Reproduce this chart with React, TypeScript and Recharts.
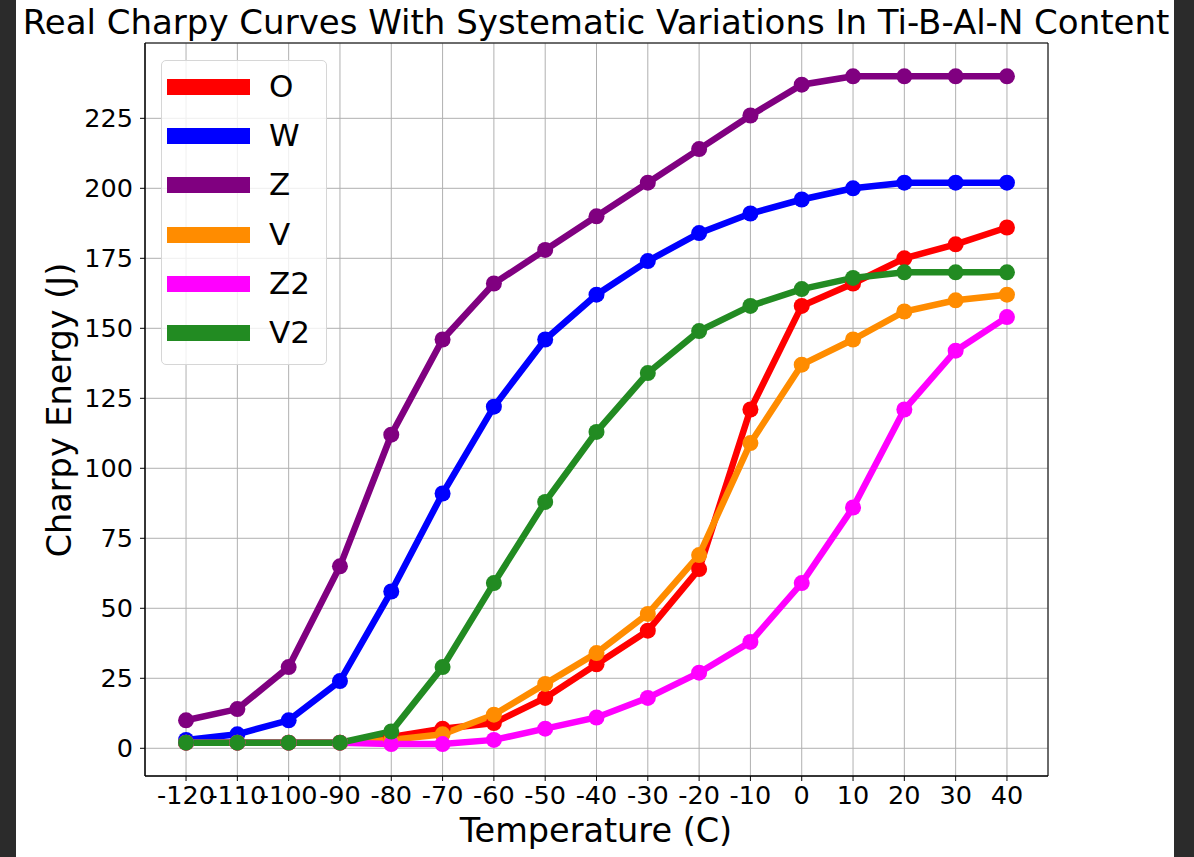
import React from 'react';
import { LineChart, Line, XAxis, YAxis, CartesianGrid, ReferenceArea } from 'recharts';

const temps = [-120, -110, -100, -90, -80, -70, -60, -50, -40, -30, -20, -10, 0, 10, 20, 30, 40];
const seriesO = [2, 2, 2, 2, 4, 7, 9, 18, 30, 42, 64, 121, 158, 166, 175, 180, 186];
const seriesW = [3, 5, 10, 24, 56, 91, 122, 146, 162, 174, 184, 191, 196, 200, 202, 202, 202];
const seriesZ = [10, 14, 29, 65, 112, 146, 166, 178, 190, 202, 214, 226, 237, 240, 240, 240, 240];
const seriesV = [2, 2, 2, 2, 3, 5, 12, 23, 34, 48, 69, 109, 137, 146, 156, 160, 162];
const seriesZ2 = [2, 2, 2, 2, 1.5, 1.5, 3, 7, 11, 18, 27, 38, 59, 86, 121, 142, 154];
const seriesV2 = [2, 2, 2, 2, 6, 29, 59, 88, 113, 134, 149, 158, 164, 168, 170, 170, 170];

const xTicks = [-120, -110, -100, -90, -80, -70, -60, -50, -40, -30, -20, -10, 0, 10, 20, 30, 40];
const yTicks = [0, 25, 50, 75, 100, 125, 150, 175, 200, 225];

const series = [
  { key: 'O', values: seriesO, color: '#ff0000' },
  { key: 'W', values: seriesW, color: '#0000ff' },
  { key: 'Z', values: seriesZ, color: '#800080' },
  { key: 'V', values: seriesV, color: '#ff8c00' },
  { key: 'Z2', values: seriesZ2, color: '#ff00ff' },
  { key: 'V2', values: seriesV2, color: '#228b22' },
];

const data = temps.map((t, i) => {
  const row: Record<string, number> = { t };
  series.forEach((s) => { row[s.key] = s.values[i]; });
  return row;
});

const font = '"DejaVu Sans", sans-serif';

function LegendBox() {
  return (
    <div style={{
      position: 'absolute', left: 161, top: 60, width: 164, height: 303,
      border: '1px solid #d6d6d6', borderRadius: 5, background: 'rgba(255,255,255,0.8)',
      fontFamily: font,
    }}>
      {series.map((s, i) => (
        <div key={s.key} style={{ position: 'absolute', left: 0, top: 1 + i * 49.2, height: 50, width: 164 }}>
          <div style={{ position: 'absolute', left: 5, top: 17, width: 83, height: 16, background: s.color }} />
          <div style={{ position: 'absolute', left: 107, top: 6, fontSize: 31, lineHeight: '37px', color: '#000' }}>{s.key}</div>
        </div>
      ))}
    </div>
  );
}

export default function App() {
  return (
    <div style={{ position: 'absolute', left: 0, top: 0, width: 1194, height: 857, background: '#2b2b2b', overflow: 'hidden' }}>
      <div style={{ position: 'absolute', left: 16, top: 0, width: 1158, height: 857, background: '#ffffff' }} />
      <div style={{ position: 'absolute', left: 0, top: 0 }}>
        <LineChart width={1194} height={857} data={data} margin={{ top: 43, right: 146, bottom: 0, left: 0 }}>
          <CartesianGrid stroke="#b0b0b0" strokeWidth={1} />
          <XAxis
            dataKey="t" type="number" domain={[-128, 48]} ticks={xTicks} allowDataOverflow
            height={81} interval={0}
            tick={{ fill: '#000', fontSize: 25.5, fontFamily: font }}
            tickSize={5} tickMargin={5} stroke="#000" tickLine={{ stroke: '#000' }}
          />
          <YAxis
            type="number" domain={[-9.9, 251.9]} ticks={yTicks} allowDataOverflow
            width={145} interval={0}
            tick={{ fill: '#000', fontSize: 25.5, fontFamily: font }}
            tickSize={5} tickMargin={7} stroke="#000" tickLine={{ stroke: '#000' }}
          />
          <ReferenceArea x1={-128} x2={48} y1={-9.9} y2={251.9} fill="none" stroke="#000" strokeWidth={1} ifOverflow="visible" />
          {series.map((s) => (
            <Line
              key={s.key} dataKey={s.key} type="linear" stroke={s.color} strokeWidth={6.5}
              dot={{ r: 8, fill: s.color, stroke: s.color, strokeWidth: 0 }}
              activeDot={false} isAnimationActive={false}
            />
          ))}
          <text x={596} y={34} textAnchor="middle" fontSize={34} fontFamily={font} fill="#000">
            Real Charpy Curves With Systematic Variations In Ti-B-Al-N Content
          </text>
          <text x={596} y={842} textAnchor="middle" fontSize={33.5} fontFamily={font} fill="#000">
            Temperature (C)
          </text>
          <text x={71} y={410} textAnchor="middle" fontSize={33.5} fontFamily={font} fill="#000" transform="rotate(-90 71 410)">
            Charpy Energy (J)
          </text>
        </LineChart>
      </div>
      <LegendBox />
    </div>
  );
}
